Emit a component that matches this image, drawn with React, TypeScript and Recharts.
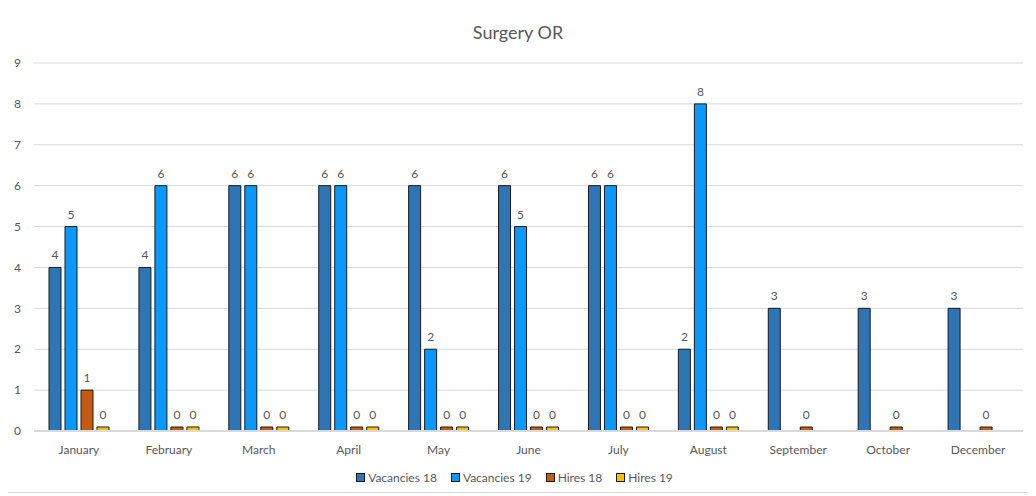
import * as React from "react"
import {
  BarChart,
  Bar,
  XAxis,
  YAxis,
  CartesianGrid,
  Legend,
  LabelList,
} from "recharts"

// months shown on the chart (no November in the source)
const months = [
  "January", "February", "March", "April", "May", "June",
  "July", "August", "September", "October", "December",
]
const vacancies18 = [4, 4, 6, 6, 6, 6, 6, 2, 3, 3, 3]
const vacancies19 = [5, 6, 6, 6, 2, 5, 6, 8, null, null, null]
const hires18 = [1, 0, 0, 0, 0, 0, 0, 0, 0, 0, 0]
const hires19 = [0, 0, 0, 0, 0, 0, 0, 0, null, null, null]
const yTicks = [0, 1, 2, 3, 4, 5, 6, 7, 8, 9]

const data = months.map((m, i) => ({
  month: m,
  v18: vacancies18[i],
  v19: vacancies19[i],
  h18: hires18[i],
  h19: hires19[i],
}))

const FONT = "Lato, 'Liberation Sans', sans-serif"
const TEXT = "#595959"

// Excel draws zero values as a thin stub, so give zeros a minimum height
const zeroStub = (v: any) => (v === 0 ? 4 : 0)

const series = [
  { key: "v18", name: "Vacancies 18", color: "#2E75B6" },
  { key: "v19", name: "Vacancies 19", color: "#0A99FA" },
  { key: "h18", name: "Hires 18", color: "#C55A11" },
  { key: "h19", name: "Hires 19", color: "#FFC000" },
]

// legend in series order, with outlined square swatches
function LegendContent() {
  return (
    <div style={{ display: "flex", justifyContent: "center", gap: 14 }}>
      {series.map((s) => (
        <span
          key={s.key}
          style={{ display: "inline-flex", alignItems: "center", fontSize: 12, color: TEXT }}
        >
          <span
            style={{
              display: "inline-block",
              width: 7,
              height: 7,
              background: s.color,
              border: "1px solid #1a1a1a",
              marginRight: 3,
            }}
          />
          {s.name}
        </span>
      ))}
    </div>
  )
}

export default function App() {
  return (
    <div
      style={{
        position: "relative",
        width: 1024,
        height: 484,
        border: "1px solid #d9d9d9",
        marginLeft: -3,
        marginTop: -1,
        background: "#fff",
        fontFamily: FONT,
      }}
    >
      <div
        style={{
          position: "absolute",
          top: 13,
          left: 0,
          width: "100%",
          textAlign: "center",
          fontSize: 18,
          color: TEXT,
        }}
      >
        Surgery OR
      </div>
      <BarChart
        width={1024}
        height={484}
        data={data}
        margin={{ top: 55, right: 7, left: 0, bottom: 8 }}
        barGap={4}
        barSize={12}
      >
        <CartesianGrid vertical={false} stroke="#d9d9d9" />
        <XAxis
          dataKey="month"
          height={39}
          tickLine={false}
          axisLine={{ stroke: "#d9d9d9", strokeWidth: 2 }}
          tick={{ fill: TEXT, fontSize: 12, fontFamily: FONT }}
          tickMargin={8}
          interval={0}
        />
        <YAxis
          width={28}
          domain={[0, 9]}
          ticks={yTicks}
          tickLine={false}
          axisLine={false}
          tickMargin={7}
          tick={{ fill: TEXT, fontSize: 12, fontFamily: FONT }}
        />
        <Legend verticalAlign="bottom" height={14} content={<LegendContent />} />
        {series.map((s) => (
          <Bar
            key={s.key}
            dataKey={s.key}
            name={s.name}
            fill={s.color}
            stroke="#1a1a1a"
            strokeWidth={1}
            minPointSize={zeroStub}
            isAnimationActive={false}
          >
            <LabelList
              dataKey={s.key}
              position="top"
              offset={8}
              fill={TEXT}
              fontSize={12}
              fontFamily={FONT}
            />
          </Bar>
        ))}
      </BarChart>
    </div>
  )
}
